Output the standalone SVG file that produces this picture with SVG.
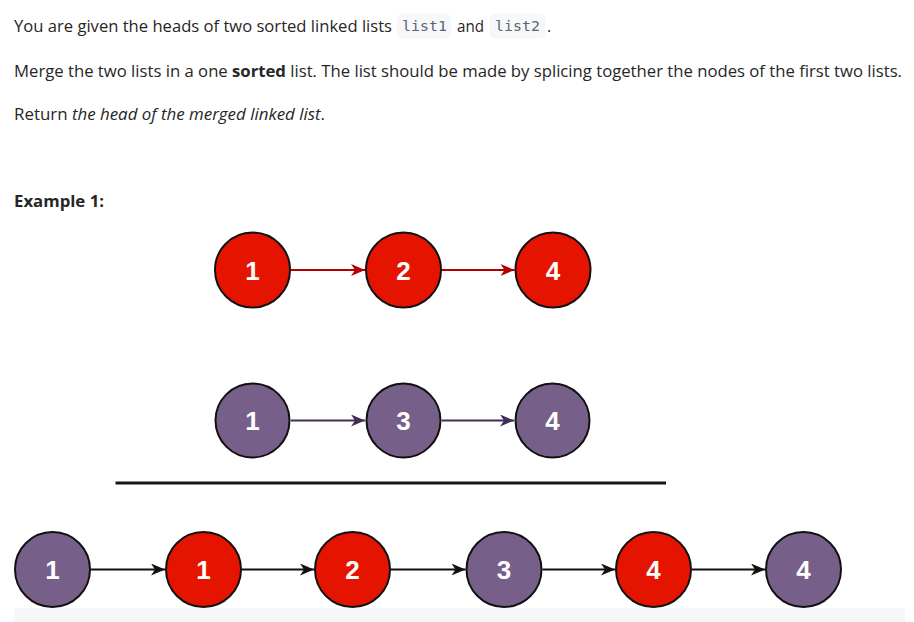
<svg xmlns="http://www.w3.org/2000/svg" width="914" height="622" viewBox="0 0 914 622">
<style>
.t{font-family:"Open Sans","Noto Sans","Liberation Sans",sans-serif;font-size:16px;fill:#262626}
.code{font-family:"DejaVu Sans Mono","Liberation Mono",monospace;font-size:14px;fill:#5a6675}
.cbox{fill:#f7f8fa;stroke:#000;stroke-opacity:0.02;stroke-width:1}
.red{fill:#e51400;stroke:#111;stroke-width:2}
.pur{fill:#76608a;stroke:#111;stroke-width:2}
.num{font-family:"Liberation Sans",Arial,sans-serif;font-weight:bold;font-size:26px;fill:#fff;text-anchor:middle}
.er{stroke:#b20000;stroke-width:2;fill:none}
.ep{stroke:#432d57;stroke-width:2;fill:none}
.eb{stroke:#111;stroke-width:2;fill:none}
</style>
<defs>
<marker id="ar" viewBox="0 0 14 12" refX="14" refY="6" markerWidth="14" markerHeight="12" markerUnits="userSpaceOnUse" orient="auto"><path d="M0,0 L14,6 L0,12 L4,6 Z" fill="#b20000"/></marker>
<marker id="ap" viewBox="0 0 14 12" refX="14" refY="6" markerWidth="14" markerHeight="12" markerUnits="userSpaceOnUse" orient="auto"><path d="M0,0 L14,6 L0,12 L4,6 Z" fill="#432d57"/></marker>
<marker id="ab" viewBox="0 0 14 12" refX="14" refY="6" markerWidth="14" markerHeight="12" markerUnits="userSpaceOnUse" orient="auto"><path d="M0,0 L14,6 L0,12 L4,6 Z" fill="#111"/></marker>
</defs>
<rect width="914" height="622" fill="#fff"/>
<g id="text">
<text class="t" x="14" y="31.5" textLength="378" lengthAdjust="spacingAndGlyphs">You are given the heads of two sorted linked lists</text>
<rect class="cbox" x="397" y="14" width="54" height="24" rx="5"/>
<text class="code" x="402" y="31" textLength="45" lengthAdjust="spacingAndGlyphs">list1</text>
<text class="t" x="457" y="31.5" textLength="27" lengthAdjust="spacingAndGlyphs">and</text>
<rect class="cbox" x="490" y="14" width="55" height="24" rx="5"/>
<text class="code" x="495" y="31" textLength="45" lengthAdjust="spacingAndGlyphs">list2</text>
<text class="t" x="547" y="31.5">.</text>
<text class="t" x="14" y="77" textLength="888" lengthAdjust="spacingAndGlyphs">Merge the two lists in a one <tspan font-weight="bold">sorted</tspan> list. The list should be made by splicing together the nodes of the first two lists.</text>
<text class="t" x="14" y="119.5" textLength="311" lengthAdjust="spacingAndGlyphs">Return <tspan font-style="italic">the head of the merged linked list</tspan>.</text>
<text class="t" x="14" y="206.5" font-weight="bold" textLength="90" lengthAdjust="spacingAndGlyphs">Example 1:</text>
</g>
<g id="connectors">
<line class="er" x1="291" y1="270" x2="365" y2="270" marker-end="url(#ar)"/>
<line class="er" x1="442" y1="270" x2="514.5" y2="270" marker-end="url(#ar)"/>
<line class="ep" x1="291" y1="420.5" x2="365" y2="420.5" marker-end="url(#ap)"/>
<line class="ep" x1="442" y1="420.5" x2="514" y2="420.5" marker-end="url(#ap)"/>
<line class="eb" x1="91" y1="569.5" x2="165" y2="569.5" marker-end="url(#ab)"/>
<line class="eb" x1="242" y1="569.5" x2="314" y2="569.5" marker-end="url(#ab)"/>
<line class="eb" x1="391" y1="569.5" x2="465.5" y2="569.5" marker-end="url(#ab)"/>
<line class="eb" x1="542.5" y1="569.5" x2="615" y2="569.5" marker-end="url(#ab)"/>
<line class="eb" x1="692" y1="569.5" x2="765" y2="569.5" marker-end="url(#ab)"/>
<line x1="115.5" y1="483" x2="666" y2="483" stroke="#161616" stroke-width="3"/>
</g>
<g id="l1n1"><circle class="red" cx="252.5" cy="270" r="37.5"/><text class="num" x="252.5" y="279.5">1</text></g>
<g id="l1n2"><circle class="red" cx="403.5" cy="270" r="37.5"/><text class="num" x="403.5" y="279.5">2</text></g>
<g id="l1n3"><circle class="red" cx="553" cy="270" r="37.5"/><text class="num" x="553" y="279.5">4</text></g>
<g id="l2n1"><circle class="pur" cx="252.5" cy="420.5" r="37"/><text class="num" x="252.5" y="430">1</text></g>
<g id="l2n2"><circle class="pur" cx="403.5" cy="420.5" r="37"/><text class="num" x="403.5" y="430">3</text></g>
<g id="l2n3"><circle class="pur" cx="552.5" cy="420.5" r="37"/><text class="num" x="552.5" y="430">4</text></g>
<g id="m1"><circle class="pur" cx="52.5" cy="569.5" r="37.5"/><text class="num" x="52.5" y="579">1</text></g>
<g id="m2"><circle class="red" cx="203.5" cy="569.5" r="37.5"/><text class="num" x="203.5" y="579">1</text></g>
<g id="m3"><circle class="red" cx="352.5" cy="569.5" r="37.5"/><text class="num" x="352.5" y="579">2</text></g>
<g id="m4"><circle class="pur" cx="504" cy="569.5" r="37.5"/><text class="num" x="504" y="579">3</text></g>
<g id="m5"><circle class="red" cx="653.5" cy="569.5" r="37.5"/><text class="num" x="653.5" y="579">4</text></g>
<g id="m6"><circle class="pur" cx="803.5" cy="569.5" r="37.5"/><text class="num" x="803.5" y="579">4</text></g>
<rect x="14" y="608" width="891" height="14" fill="#f6f7f9"/>
</svg>
